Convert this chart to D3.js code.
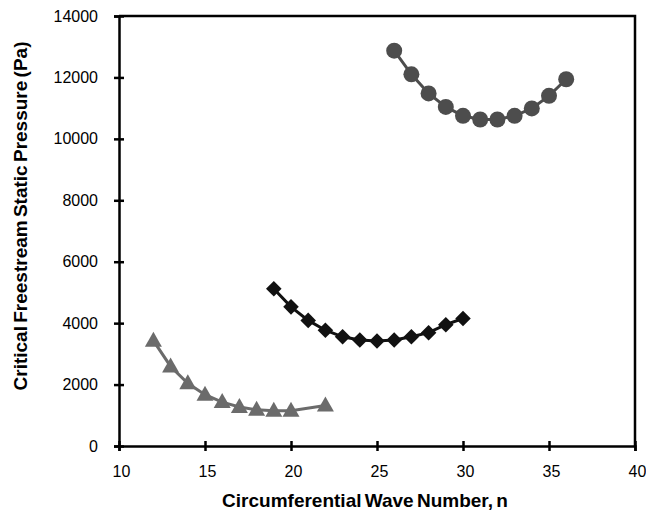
<!DOCTYPE html>
<html>
<head>
<meta charset="utf-8">
<script src="https://cdn.jsdelivr.net/npm/d3@7"></script>
<style>
body { margin: 0; background: #fff; }
text { font-family: "Liberation Sans", Arial, sans-serif; }
</style>
</head>
<body>
<div id="chart"></div>
<script>
// wave numbers and critical pressures (Pa) for the three curves
var nCircle = [26, 27, 28, 29, 30, 31, 32, 33, 34, 35, 36];
var pCircle = [12870, 12100, 11480, 11040, 10750, 10630, 10630, 10750, 10990, 11400, 11940];

var nDiamond = [19, 20, 21, 22, 23, 24, 25, 26, 27, 28, 29, 30];
var pDiamond = [5120, 4530, 4090, 3770, 3555, 3450, 3420, 3450, 3555, 3690, 3950, 4150];

var nTriangle = [12, 13, 14, 15, 16, 17, 18, 19, 20, 22];
var pTriangle = [3430, 2590, 2040, 1670, 1430, 1270, 1180, 1150, 1150, 1320];

var xTicks = [10, 15, 20, 25, 30, 35, 40];
var yTicks = [0, 2000, 4000, 6000, 8000, 10000, 12000, 14000];

(function(){
	var width = 646, height = 511;
	var mLeft = 119, mRight = 635, mTop = 16, mBottom = 446;

	var svg = d3.select("#chart").append("svg")
		.attr("width", width)
		.attr("height", height);

	var x = d3.scaleLinear().domain([10, 40]).range([mLeft, mRight]);
	var y = d3.scaleLinear().domain([0, 14000]).range([mBottom, mTop]);

	// frame (top + right)
	svg.append("path")
		.attr("d", "M" + mLeft + "," + mTop + "H" + mRight + "V" + mBottom)
		.attr("fill", "none")
		.attr("stroke", "#000")
		.attr("stroke-width", 2.5);

	var xAxis = svg.append("g")
		.attr("transform", "translate(0," + mBottom + ")")
		.call(d3.axisBottom(x).tickValues(xTicks).tickSize(5).tickPadding(15));
	var yAxis = svg.append("g")
		.attr("transform", "translate(" + mLeft + ",0)")
		.call(d3.axisLeft(y).tickValues(yTicks).tickSize(5).tickPadding(16).tickFormat(d3.format("d")));

	[xAxis, yAxis].forEach(function(g) {
		g.select(".domain").attr("stroke-width", 2.5).attr("stroke", "#000");
		g.selectAll(".tick line").attr("stroke-width", 2.5).attr("stroke", "#000");
		g.selectAll("text").attr("font-size", 16).attr("fill", "#000")
			.attr("font-family", "Liberation Sans, Arial, sans-serif");
	});
	xAxis.selectAll("text").attr("dx", 2);
	// ticks cross the axis
	xAxis.selectAll(".tick line").attr("y1", -5).attr("y2", 5);
	yAxis.selectAll(".tick line").attr("x1", 5).attr("x2", -5);

	var line = d3.line()
		.x(function(d) { return x(d[0]); })
		.y(function(d) { return y(d[1]); });

	function series(ns, ps, color, marker) {
		var pts = ns.map(function(n, i) { return [n, ps[i]]; });
		svg.append("path")
			.datum(pts)
			.attr("d", line)
			.attr("fill", "none")
			.attr("stroke", color)
			.attr("stroke-width", 3);
		var g = svg.selectAll(null)
			.data(pts)
			.enter().append("g")
			.attr("transform", function(d) { return "translate(" + x(d[0]) + "," + y(d[1]) + ")"; });
		marker(g, color);
	}

	series(nTriangle, pTriangle, "#6b6b6b", function(g, c) {
		g.append("path").attr("d", "M0,-9L8.5,6L-8.5,6Z").attr("fill", c);
	});
	series(nDiamond, pDiamond, "#111111", function(g, c) {
		g.append("rect")
			.attr("x", -5.5).attr("y", -5.5)
			.attr("width", 11).attr("height", 11)
			.attr("transform", "rotate(45)")
			.attr("fill", c);
	});
	series(nCircle, pCircle, "#4d4d4d", function(g, c) {
		g.append("circle").attr("r", 8).attr("fill", c);
	});

	svg.append("text")
		.attr("x", 365)
		.attr("y", 507)
		.attr("text-anchor", "middle")
		.attr("font-size", 19)
		.attr("font-weight", "bold")
		.attr("word-spacing", -2)
		.text("Circumferential Wave Number, n");

	svg.append("text")
		.attr("transform", "translate(27,216) rotate(-90)")
		.attr("text-anchor", "middle")
		.attr("font-size", 19)
		.attr("font-weight", "bold")
		.attr("word-spacing", -2)
		.text("Critical Freestream Static Pressure (Pa)");
})();
</script>
</body>
</html>
